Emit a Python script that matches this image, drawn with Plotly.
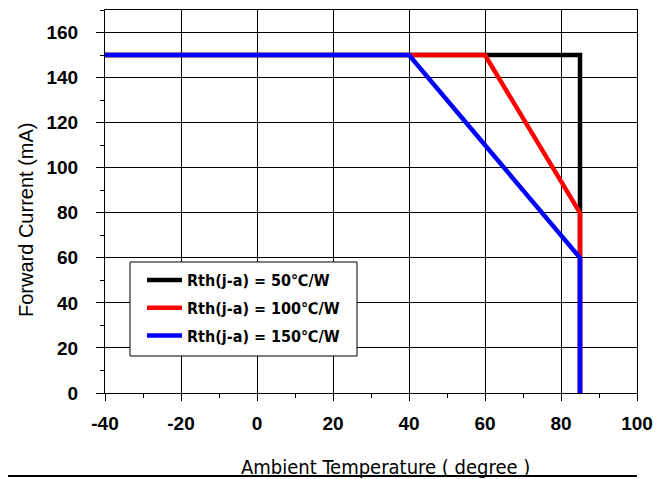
import plotly.graph_objects as go

# Data
temp_50 = [-40, 85, 85]
curr_50 = [150, 150, 0]
temp_100 = [-40, 60, 85, 85]
curr_100 = [150, 150, 80, 0]
temp_150 = [-40, 40, 85, 85]
curr_150 = [150, 150, 60, 0]
series_names = ["Rth(j-a) = 50℃/W", "Rth(j-a) = 100℃/W", "Rth(j-a) = 150℃/W"]
series_colors = ["#000000", "#ff0000", "#0000ff"]
x_ticks = [-40, -20, 0, 20, 40, 60, 80, 100]
y_ticks = [0, 20, 40, 60, 80, 100, 120, 140, 160]

# page body has an 8px default margin; compensate so the picture lines up
OFF = 8
W, H = 672 - OFF, 479 - OFF
L, T = 105 - OFF, 10 - OFF
R, B = 35, 86
pw, ph = W - L - R, H - T - B
BOT = H - B  # y pixel (figure coords) of x-axis


def px(xp):
    return (xp - OFF - L) / pw


def py(yp):
    return (BOT - (yp - OFF)) / ph


fig = go.Figure()
for i, (xs, ys) in enumerate([(temp_50, curr_50), (temp_100, curr_100), (temp_150, curr_150)]):
    fig.add_trace(go.Scatter(
        x=xs, y=ys, mode="lines", name=series_names[i],
        line=dict(color=series_colors[i], width=4.5),
        legendgroup=f"g{i}",
    ))

tickfont = dict(family="Liberation Sans, Arial, sans-serif", size=19, color="black", weight="bold")

fig.update_layout(
    width=W, height=H,
    margin=dict(l=L, r=R, t=T, b=B),
    paper_bgcolor="white", plot_bgcolor="white",
    showlegend=True,
    legend=dict(
        x=px(142), y=py(263), xanchor="left", yanchor="top",
        bgcolor="rgba(0,0,0,0)", borderwidth=0,
        font=dict(family="DejaVu Sans Condensed, DejaVu Sans, sans-serif", size=16, color="black", weight="bold"),
        tracegroupgap=4, itemwidth=35,
    ),
    xaxis=dict(
        range=[-40, 100], tickvals=x_ticks, ticktext=[str(v) for v in x_ticks],
        showgrid=True, gridcolor="black", gridwidth=1,
        showline=True, linecolor="black", linewidth=1, mirror=True,
        ticks="outside", ticklen=7, tickcolor="black", tickwidth=1,
        minor=dict(dtick=10, tick0=0, ticks="outside", ticklen=4, tickcolor="black", showgrid=False),
        tickfont=tickfont, ticklabelstandoff=6, zeroline=False,
    ),
    yaxis=dict(
        range=[0, 170], tickvals=y_ticks, ticktext=[str(v) for v in y_ticks],
        showgrid=True, gridcolor="black", gridwidth=1,
        showline=True, linecolor="black", linewidth=1, mirror=True,
        ticks="outside", ticklen=8, tickcolor="black", tickwidth=1,
        minor=dict(dtick=10, tick0=0, ticks="outside", ticklen=4, tickcolor="black", showgrid=False),
        tickfont=tickfont, ticklabelstandoff=14, zeroline=False,
    ),
    annotations=[
        dict(text="Ambient Temperature ( degree )", xref="paper", yref="paper",
             x=px(385), y=py(467), xanchor="center", yanchor="middle",
             showarrow=False,
             font=dict(family="DejaVu Sans Condensed, DejaVu Sans, sans-serif", size=20, color="black")),
        dict(text="Forward Current (mA)", xref="paper", yref="paper",
             x=px(26), y=py(220), xanchor="center", yanchor="middle",
             textangle=-90, showarrow=False,
             font=dict(family="Liberation Sans, Arial, sans-serif", size=20, color="black")),
    ],
    shapes=[
        dict(type="rect", xref="paper", yref="paper",
             x0=px(130), x1=px(357), y0=py(356), y1=py(262),
             line=dict(color="black", width=1), fillcolor="white", layer="above"),
        dict(type="line", xref="paper", yref="paper",
             x0=px(0), x1=1.0, y0=py(476), y1=py(476),
             line=dict(color="black", width=2)),
    ],
)

fig.write_html("out.html")
